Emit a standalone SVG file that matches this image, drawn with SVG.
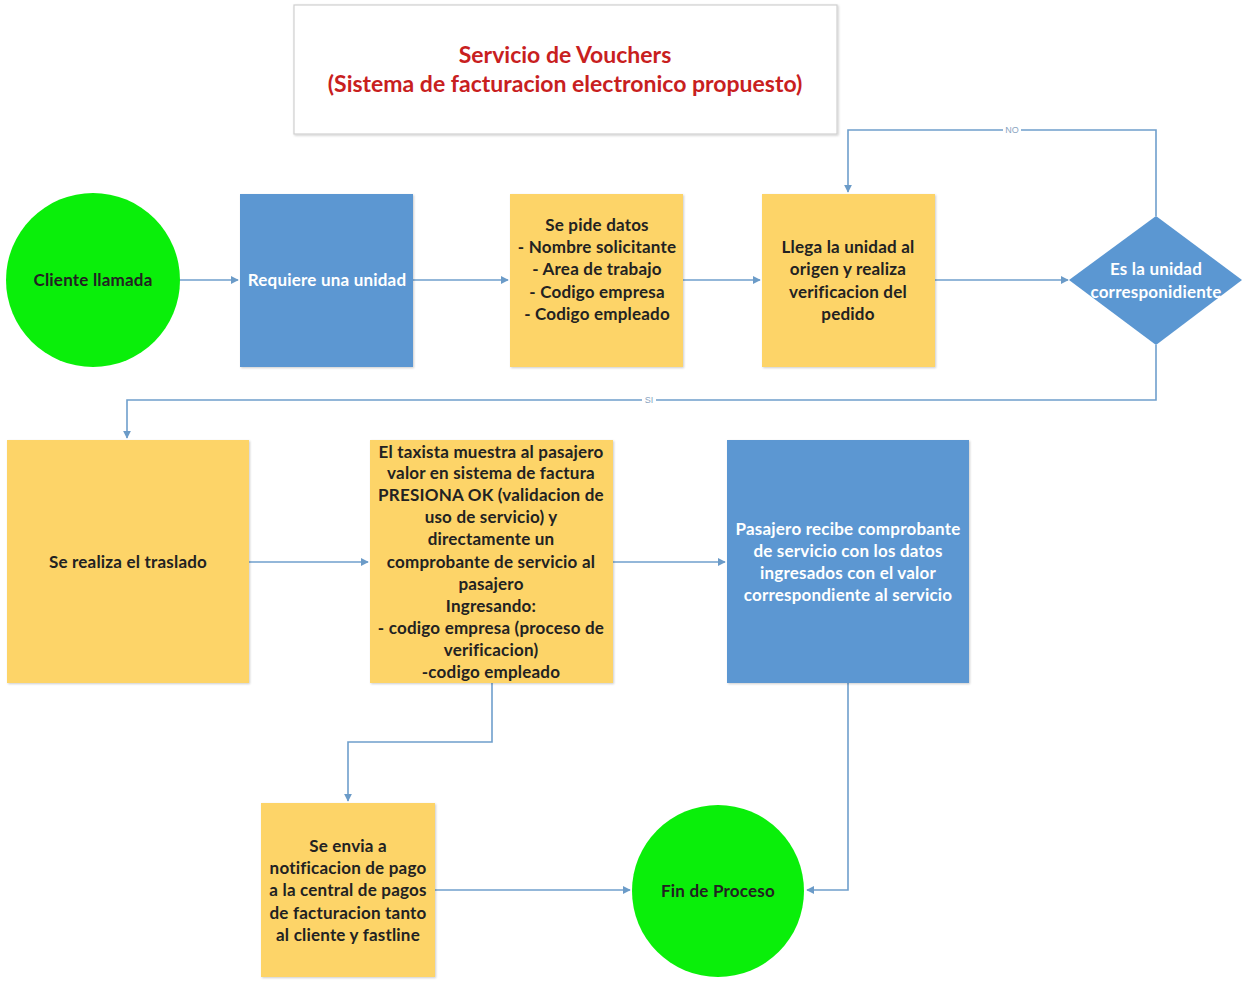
<svg xmlns="http://www.w3.org/2000/svg" width="1243" height="981" viewBox="0 0 1243 981">
  <defs>
    <marker id="arrow" viewBox="0 0 10 10" refX="9" refY="5" markerWidth="8" markerHeight="8" markerUnits="userSpaceOnUse" orient="auto">
      <path d="M0,0 L10,5 L0,10 z" fill="#6b9bc8"/>
    </marker>
    <filter id="shadow" x="-5%" y="-5%" width="110%" height="110%">
      <feDropShadow dx="1" dy="1" stdDeviation="1" flood-color="#000" flood-opacity="0.2"/>
    </filter>
  </defs>
  <style>
    .t { font-family: Lato, "Open Sans", "Liberation Sans", sans-serif; font-weight: bold; font-size: 17px; letter-spacing: 0.2px; text-anchor: middle; }
    .dark { fill: #222; }
    .light { fill: #fff; }
    .yellow { fill: #fdd467; filter: url(#shadow); }
    .blue { fill: #5b97d2; filter: url(#shadow); }
    .green { fill: #0aef0a; }
    .edge { fill: none; stroke: #6f9fcc; stroke-width: 1.6; }
    .lbl { font-family: "Liberation Sans", sans-serif; font-size: 9px; fill: #8aa4bf; text-anchor: middle; }
    .title { font-family: Lato, "Open Sans", "Liberation Sans", sans-serif; font-weight: bold; font-size: 23px; fill: #c8201e; text-anchor: middle; }
  </style>
  <rect width="1243" height="981" fill="#fff"/>

  <g id="title">
    <rect x="294" y="5" width="543" height="129" fill="#fff" stroke="#d0d0d0" stroke-width="1.2" filter="url(#shadow)"/>
    <text class="title" x="565" y="63">Servicio de Vouchers</text>
    <text class="title" x="565" y="92">(Sistema de facturacion electronico propuesto)</text>
  </g>

  <g id="connectors">
    <line class="edge" x1="180" y1="280" x2="238" y2="280" marker-end="url(#arrow)"/>
    <line class="edge" x1="413" y1="280" x2="508" y2="280" marker-end="url(#arrow)"/>
    <line class="edge" x1="683" y1="280" x2="760" y2="280" marker-end="url(#arrow)"/>
    <line class="edge" x1="935" y1="280" x2="1068" y2="280" marker-end="url(#arrow)"/>
    <polyline class="edge" points="1156,216 1156,130 848,130 848,192" marker-end="url(#arrow)"/>
    <polyline class="edge" points="1156,345 1156,400 127,400 127,438" marker-end="url(#arrow)"/>
    <line class="edge" x1="249" y1="562" x2="368" y2="562" marker-end="url(#arrow)"/>
    <line class="edge" x1="613" y1="562" x2="725" y2="562" marker-end="url(#arrow)"/>
    <polyline class="edge" points="492,683 492,742 348,742 348,801" marker-end="url(#arrow)"/>
    <line class="edge" x1="435" y1="890" x2="630" y2="890" marker-end="url(#arrow)"/>
    <polyline class="edge" points="848,683 848,890 807,890" marker-end="url(#arrow)"/>
    <rect x="1003" y="125" width="18" height="10" fill="#fff"/>
    <text class="lbl" x="1012" y="133">NO</text>
    <rect x="642" y="395" width="14" height="10" fill="#fff"/>
    <text class="lbl" x="649" y="403">SI</text>
  </g>

  <g id="n-cliente">
    <circle class="green" cx="93" cy="280" r="87"/>
    <text class="t dark" x="93" y="286">Cliente llamada</text>
  </g>

  <g id="n-requiere">
    <rect class="blue" x="240" y="194" width="173" height="173"/>
    <text class="t light" x="327" y="286">Requiere una unidad</text>
  </g>

  <g id="n-datos">
    <rect class="yellow" x="510" y="194" width="173" height="173"/>
    <text class="t dark" x="597" y="231">Se pide datos</text>
    <text class="t dark" x="597" y="253">- Nombre solicitante</text>
    <text class="t dark" x="597" y="275">- Area de trabajo</text>
    <text class="t dark" x="597" y="298">- Codigo empresa</text>
    <text class="t dark" x="597" y="320">- Codigo empleado</text>
  </g>

  <g id="n-llega">
    <rect class="yellow" x="762" y="194" width="173" height="173"/>
    <text class="t dark" x="848" y="253">Llega la unidad al</text>
    <text class="t dark" x="848" y="275">origen y realiza</text>
    <text class="t dark" x="848" y="298">verificacion del</text>
    <text class="t dark" x="848" y="320">pedido</text>
  </g>

  <g id="n-decision">
    <polygon points="1156,216 1242,280 1156,345 1069,280" fill="#5b97d2"/>
    <text class="t light" x="1156" y="275">Es la unidad</text>
    <text class="t light" x="1156" y="298">corresponidiente</text>
  </g>

  <g id="n-traslado">
    <rect class="yellow" x="7" y="440" width="242" height="243"/>
    <text class="t dark" x="128" y="568">Se realiza el traslado</text>
  </g>

  <g id="n-taxista">
    <rect class="yellow" x="370" y="440" width="243" height="243"/>
    <text class="t dark" x="491" y="458">El taxista muestra al pasajero</text>
    <text class="t dark" x="491" y="479">valor en sistema de factura</text>
    <text class="t dark" x="491" y="501">PRESIONA OK (validacion de</text>
    <text class="t dark" x="491" y="523">uso de servicio) y</text>
    <text class="t dark" x="491" y="545">directamente un</text>
    <text class="t dark" x="491" y="568">comprobante de servicio al</text>
    <text class="t dark" x="491" y="590">pasajero</text>
    <text class="t dark" x="491" y="612">Ingresando:</text>
    <text class="t dark" x="491" y="634">- codigo empresa (proceso de</text>
    <text class="t dark" x="491" y="656">verificacion)</text>
    <text class="t dark" x="491" y="678">-codigo empleado</text>
  </g>

  <g id="n-pasajero">
    <rect class="blue" x="727" y="440" width="242" height="243"/>
    <text class="t light" x="848" y="535">Pasajero recibe comprobante</text>
    <text class="t light" x="848" y="557">de servicio con los datos</text>
    <text class="t light" x="848" y="579">ingresados con el valor</text>
    <text class="t light" x="848" y="601">correspondiente al servicio</text>
  </g>

  <g id="n-envia">
    <rect class="yellow" x="261" y="803" width="174" height="174"/>
    <text class="t dark" x="348" y="852">Se envia a</text>
    <text class="t dark" x="348" y="874">notificacion de pago</text>
    <text class="t dark" x="348" y="896">a la central de pagos</text>
    <text class="t dark" x="348" y="919">de facturacion tanto</text>
    <text class="t dark" x="348" y="941">al cliente y fastline</text>
  </g>

  <g id="n-fin">
    <circle class="green" cx="718" cy="891" r="86"/>
    <text class="t dark" x="718" y="897">Fin de Proceso</text>
  </g>
</svg>
